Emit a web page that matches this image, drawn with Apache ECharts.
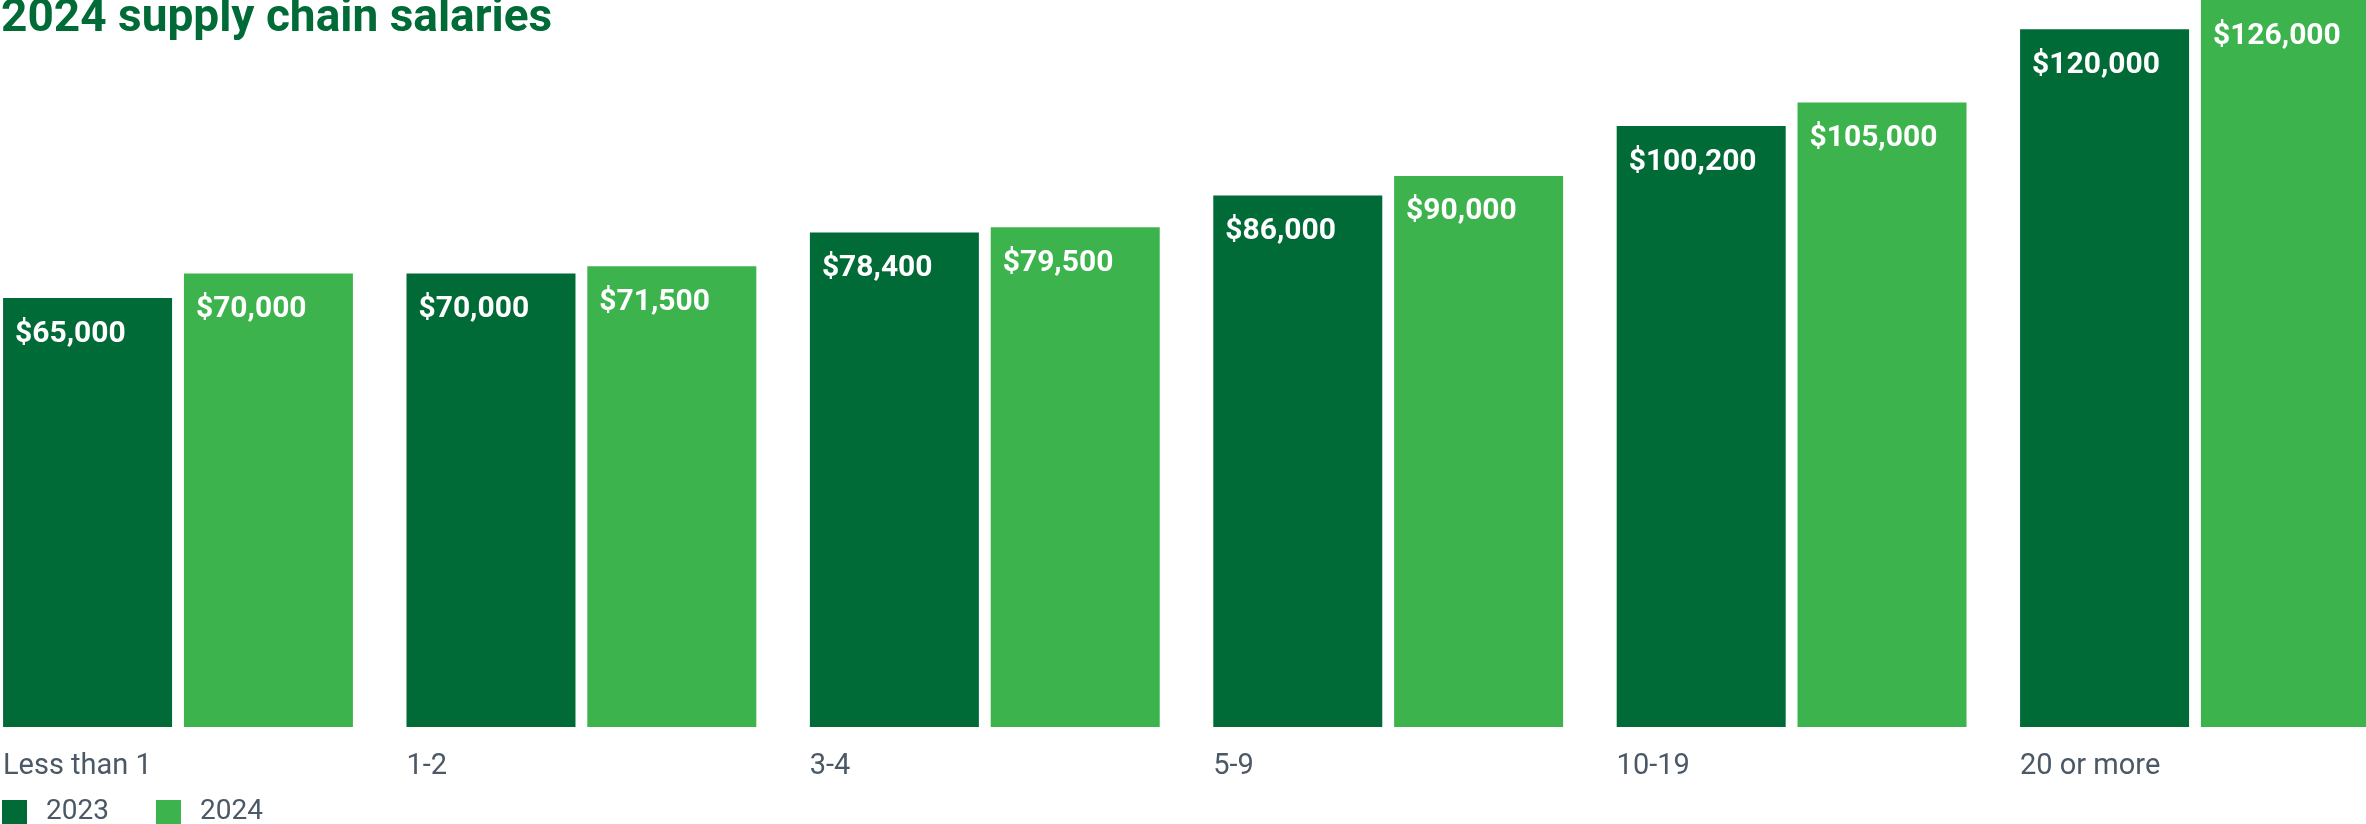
<!DOCTYPE html>
<html>
<head>
<meta charset="utf-8">
<script src="https://cdn.jsdelivr.net/npm/echarts@6/dist/echarts.min.js"></script>
<style>
  html, body { margin: 0; padding: 0; background: #ffffff; }
  #chart { width: 2366px; height: 824px; }
</style>
</head>
<body>
<div id="chart"></div>
<script>
const titleText = '2024 supply chain salaries';
const categories = ['Less than 1', '1-2', '3-4', '5-9', '10-19', '20 or more'];
const seriesNames = ['2023', '2024'];
const values2023 = [65000, 70000, 78400, 86000, 100200, 120000];
const values2024 = [70000, 71500, 79500, 90000, 105000, 126000];
const axisMin = -22800;
const axisMax = 126000;

const darkGreen = '#006b37';
const lightGreen = '#3cb34c';
const grayText = '#4b5866';

const chart = echarts.init(document.getElementById('chart'), null, { renderer: 'canvas' });

function money(v) {
  return '$' + v.toLocaleString('en-US');
}

const labelCfg = {
  show: true,
  position: [12, 21],
  color: '#ffffff',
  fontFamily: 'Roboto',
  fontWeight: 'bold',
  fontSize: 30,
  formatter: p => money(p.value)
};

chart.setOption({
  animation: false,
  backgroundColor: '#ffffff',
  title: {
    text: titleText,
    left: 1,
    top: -4,
    padding: 0,
    textStyle: {
      color: darkGreen,
      fontFamily: 'Roboto',
      fontWeight: 'bold',
      fontSize: 46
    }
  },
  legend: {
    data: seriesNames,
    left: 2,
    top: 798,
    padding: 0,
    icon: 'rect',
    itemWidth: 25,
    itemHeight: 24,
    itemGap: 47,
    textStyle: {
      color: grayText,
      fontFamily: 'Roboto',
      fontSize: 28,
      padding: [0, 0, 0, 14]
    }
  },
  grid: {
    left: 177,
    right: 171,
    top: 0,
    bottom: 97,
    containLabel: false
  },
  xAxis: {
    type: 'category',
    data: categories,
    boundaryGap: false,
    axisLine: { show: false },
    axisTick: { show: false },
    splitLine: { show: false },
    axisLabel: {
      margin: 25,
      align: 'center',
      formatter: v => '{a|' + v + '}',
      rich: {
        a: {
          width: 350,
          align: 'left',
          color: grayText,
          fontFamily: 'Roboto',
          fontSize: 29
        }
      }
    }
  },
  yAxis: {
    type: 'value',
    min: axisMin,
    max: axisMax,
    startValue: axisMin,
    show: false,
    splitLine: { show: false }
  },
  series: [
    {
      name: seriesNames[0],
      type: 'bar',
      data: values2023,
      barWidth: 169,
      barGap: '7%',
      clip: false,
      itemStyle: { color: darkGreen },
      label: labelCfg
    },
    {
      name: seriesNames[1],
      type: 'bar',
      data: values2024,
      barWidth: 169,
      barGap: '7%',
      clip: false,
      itemStyle: { color: lightGreen },
      label: labelCfg
    }
  ]
});
</script>
</body>
</html>
